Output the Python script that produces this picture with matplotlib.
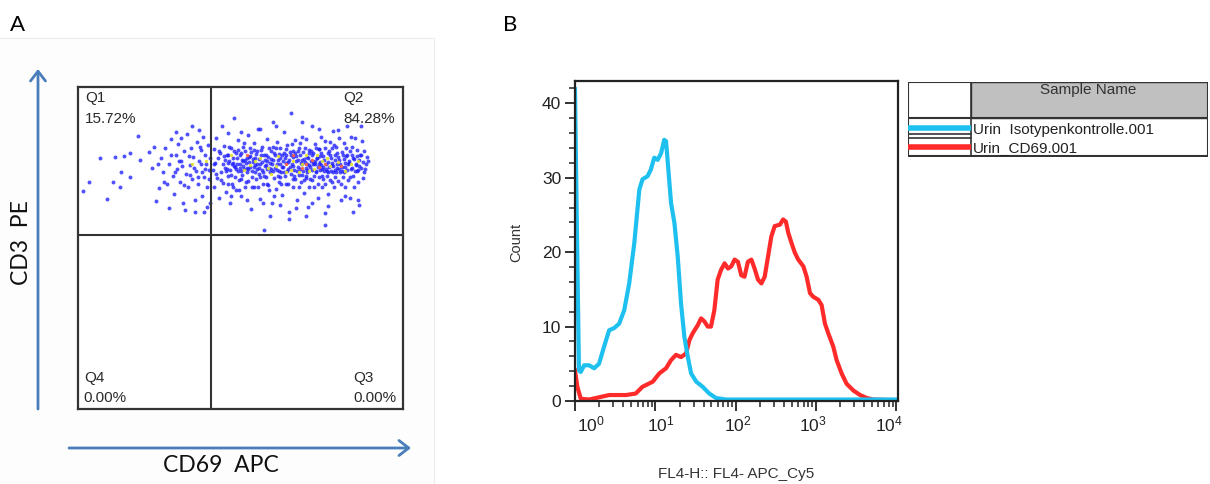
import matplotlib
matplotlib.use("Agg")
import matplotlib.pyplot as plt
import matplotlib.transforms as mtransforms
from matplotlib.patches import FancyArrowPatch, Rectangle
from matplotlib.ticker import FixedLocator, MultipleLocator, NullFormatter

plt.rcParams["font.family"] = ["Liberation Sans", "DejaVu Sans"]
plt.rcParams["mathtext.fontset"] = "custom"
plt.rcParams["mathtext.rm"] = "Liberation Sans"
plt.rcParams["mathtext.it"] = "Liberation Sans:italic"
plt.rcParams["mathtext.bf"] = "Liberation Sans:bold"
plt.rcParams["mathtext.default"] = "regular"

# ---- panel A: CD69 APC vs CD3 PE dot plot (channel units 0..1000) ----
gate_x = 410
gate_y = 540
quadrants = ["Q1", "Q2", "Q3", "Q4"]
quadrant_pct = ["15.72%", "84.28%", "0.00%", "0.00%"]

cloud = [
    (16, 677), (34, 704), (68, 779), (90, 652), (108, 706), (114, 783), (128, 690), (133, 735),
    (141, 785), (159, 795), (161, 722), (184, 849), (192, 773), (218, 799), (229, 747), (234, 813),
    (239, 646), (250, 687), (255, 780), (262, 735), (268, 812), (274, 700), (280, 760), (286, 838),
    (291, 724), (296, 668), (300, 790), (305, 745), (309, 822), (314, 705), (318, 770), (322, 640),
    (327, 800), (331, 730), (336, 855), (339, 690), (344, 758), (348, 812), (352, 715), (355, 782),
    (359, 650), (363, 740), (366, 828), (370, 700), (373, 770), (377, 805), (380, 660), (383, 735),
    (386, 845), (389, 720), (392, 790), (395, 760), (398, 690), (400, 820), (403, 742), (405, 640),
    (406, 778), (388, 612), (396, 627), (360, 612), (330, 618), (280, 625), (300, 860), (350, 880),
    (372, 868), (318, 842), (245, 760), (265, 705), (285, 790), (298, 735), (312, 770), (325, 695),
    (342, 785), (357, 748), (368, 720), (378, 760), (391, 745), (402, 715), (374, 815), (346, 728),
    (320, 755),
    (414, 742), (417, 806), (419, 688), (422, 765), (425, 842), (428, 716), (431, 778), (434, 655),
    (437, 795), (439, 735), (442, 880), (445, 760), (447, 702), (450, 818), (452, 748), (455, 675),
    (457, 790), (460, 725), (462, 858), (465, 770), (467, 640), (469, 742), (472, 810), (474, 698),
    (476, 780), (479, 755), (481, 905), (483, 722), (485, 795), (487, 680), (490, 760), (492, 835),
    (494, 712), (497, 748), (499, 788), (501, 660), (504, 772), (506, 728), (508, 815), (511, 745),
    (513, 690), (515, 802), (518, 765), (520, 735), (522, 850), (524, 708), (526, 782), (529, 752),
    (531, 620), (533, 798), (535, 740), (538, 768), (540, 690), (542, 825), (545, 758), (547, 715),
    (549, 792), (551, 745), (554, 870), (556, 730), (558, 775), (560, 652), (562, 805), (565, 742),
    (567, 768), (569, 700), (571, 557), (573, 788), (576, 755), (578, 722), (580, 840), (582, 770),
    (585, 695), (587, 748), (589, 812), (591, 735), (594, 775), (596, 640), (598, 762), (600, 890),
    (602, 718), (604, 795), (607, 750), (609, 682), (611, 828), (613, 742), (616, 772), (618, 705),
    (620, 760), (622, 810), (625, 735), (627, 665), (629, 788), (631, 752), (634, 860), (636, 725),
    (638, 778), (640, 700), (642, 820), (645, 745), (647, 768), (649, 612), (651, 798), (654, 730),
    (656, 918), (658, 760), (660, 688), (663, 782), (665, 742), (667, 835), (669, 715), (672, 770),
    (674, 650), (676, 800), (678, 752), (680, 728), (683, 790), (685, 705), (687, 765), (689, 845),
    (692, 738), (694, 775), (696, 672), (698, 812), (701, 750), (703, 725), (705, 782), (707, 628),
    (710, 758), (712, 805), (714, 715), (716, 770), (719, 880), (721, 742), (723, 795), (725, 690),
    (728, 760), (730, 822), (732, 735), (734, 778), (737, 655), (739, 752), (741, 808), (743, 720),
    (746, 768), (748, 845), (750, 745), (752, 690), (755, 785), (757, 738), (759, 572), (761, 812),
    (764, 760), (766, 725), (768, 795), (770, 668), (773, 752), (775, 830), (777, 740), (779, 778),
    (782, 705), (784, 862), (786, 755), (788, 690), (791, 788), (793, 735), (795, 815), (797, 760),
    (800, 708), (802, 842), (804, 772), (806, 735), (809, 648), (811, 798), (813, 752), (815, 720),
    (818, 825), (820, 765), (822, 690), (824, 785), (827, 742), (829, 880), (831, 710), (833, 770),
    (836, 800), (838, 655), (840, 745), (843, 815), (845, 725), (847, 780), (850, 690), (852, 842),
    (854, 758), (857, 740), (859, 805), (861, 705), (864, 772), (866, 635), (868, 790), (871, 750),
    (873, 832), (876, 718), (878, 768), (881, 800), (884, 745), (888, 783), (870, 878), (860, 650),
    (846, 612),
    (452, 772), (458, 745), (463, 790), (470, 728), (477, 765), (482, 752), (488, 778), (493, 738),
    (498, 762), (503, 795), (509, 755), (514, 772), (519, 748), (525, 768), (530, 785), (536, 722),
    (541, 752), (546, 778), (552, 762), (557, 748), (563, 790), (568, 735), (574, 772), (579, 758),
    (584, 782), (590, 765), (595, 745), (601, 772), (606, 788), (612, 760), (617, 738), (623, 778),
    (628, 752), (633, 795), (639, 765), (644, 740), (650, 772), (655, 790), (661, 755), (666, 725),
    (671, 785), (677, 772), (682, 745), (688, 760), (693, 798), (699, 768), (704, 742), (709, 778),
    (715, 752), (720, 790), (726, 765), (731, 740), (736, 780), (742, 762), (747, 795), (753, 752),
    (758, 772), (763, 745), (769, 768), (774, 788), (780, 758), (785, 735), (790, 772), (796, 748),
    (801, 782), (807, 760), (812, 738), (817, 775), (823, 752), (828, 790), (835, 765), (842, 748),
    (849, 775), (856, 762), (863, 742), (620, 722), (640, 808), (660, 800), (680, 812), (700, 718),
    (720, 712), (740, 808), (760, 700), (780, 812), (690, 728), (710, 795), (730, 770), (750, 725),
    (770, 735), (790, 742), (600, 815), (580, 700), (560, 720), (540, 805), (520, 780), (500, 715),
    (480, 800), (460, 765), (705, 762), (745, 742),
    (418, 760), (426, 730), (433, 800), (441, 712), (448, 785), (456, 738), (461, 700), (466, 815),
    (473, 760), (478, 690), (486, 745), (491, 805), (496, 680), (502, 740), (507, 770), (512, 825),
    (517, 705), (523, 745), (528, 812), (534, 690), (539, 775), (544, 735), (550, 800), (555, 690),
    (561, 760), (566, 815), (572, 725), (577, 790), (583, 745), (588, 680), (593, 800), (599, 738),
    (603, 660), (608, 810), (614, 725), (619, 792), (624, 700), (630, 770), (635, 735), (641, 790),
    (646, 700), (652, 752), (657, 822), (662, 715), (668, 795), (673, 740), (679, 690), (684, 825),
    (690, 772), (695, 710), (700, 840), (706, 735), (711, 690), (717, 800), (722, 762), (727, 725),
    (733, 812), (738, 700), (744, 785), (749, 758), (754, 715), (760, 832), (765, 738), (771, 800),
    (776, 712), (781, 765), (787, 820), (792, 720), (798, 795), (803, 745), (808, 700), (814, 790),
    (819, 735), (825, 812), (830, 760), (837, 720), (844, 790), (851, 740), (858, 785), (865, 755),
    (872, 790), (879, 735), (886, 760), (892, 770), (470, 660), (520, 650), (570, 640), (620, 635),
    (670, 625), (720, 640), (770, 630), (820, 660), (500, 860), (560, 870), (610, 880), (690, 890),
    (740, 870), (800, 865), (840, 845), (590, 600), (650, 590), (700, 600), (760, 610),
]
cloud_yellow = [
    (470, 790), (510, 742), (545, 770), (585, 750), (615, 785), (640, 735), (662, 770), (690, 760),
    (700, 790), (725, 745), (750, 770), (775, 755), (800, 768), (820, 740), (840, 760), (610, 755),
    (655, 742), (735, 790), (560, 780), (595, 730), (680, 735), (765, 780), (710, 740), (530, 758),
    (860, 770), (395, 770), (350, 760),
]
cloud_red = [
    (640, 760), (690, 748), (720, 772), (760, 762), (700, 760), (810, 755), (660, 790), (740, 752),
    (520, 790),
]

# ---- panel B: FL4 histogram overlay ----
blue_x = [1.0, 1.05, 1.09, 1.12, 1.18, 1.30, 1.50, 1.73, 1.99, 2.30, 2.66, 3.07, 3.55, 4.10,
          4.73, 5.47, 6.32, 6.93, 8.0, 8.8, 9.7, 10.7, 11.8, 12.9, 13.6, 14.3, 15.7, 17.3, 19.0,
          20.9, 23.0, 25.4, 27.9, 32.3, 38.9, 47.0, 57, 76, 150, 500, 2000, 10500]
blue_y = [41.9, 25, 13, 4.1, 3.9, 4.8, 4.8, 4.4, 5.0, 7.3, 9.5, 9.8, 10.4, 12.2,
          15.8, 21.2, 28.4, 29.8, 30.2, 31.1, 32.7, 32.4, 33.3, 35.1, 34.9, 32.0, 26.6, 23.9, 19.4,
          13.1, 8.6, 5.9, 3.7, 2.6, 1.9, 1.0, 0.4, 0.2, 0.2, 0.2, 0.2, 0.2]

red_x = [1.0, 1.07, 1.18, 1.5, 2.0, 2.66, 4.3, 5.7, 6.9, 9.3, 11.2, 13.6, 15.7, 18.1, 20.9, 24.2,
         26.6, 29.2, 33.8, 37.1, 40.8, 44.9, 49.3, 54.3, 59.7, 65.7, 72.8, 80.3, 88.3, 97.1, 106.8,
         117.5, 129, 142, 157, 172, 190, 209, 230, 253, 278, 306, 356, 390, 422, 452, 497, 547, 602,
         696, 765, 842, 926, 1069, 1175, 1293, 1422, 1643, 1807, 2087, 2410, 2925, 3548, 4300,
         5200, 10500]
red_y = [4.1, 1.9, 0.3, 0.2, 0.5, 0.8, 0.8, 1.0, 1.9, 2.6, 3.7, 4.4, 5.5, 6.2, 5.9, 6.4,
         8.2, 9.1, 10.2, 11.1, 10.7, 10.0, 10.0, 12.2, 16.3, 17.6, 18.5, 17.8, 18.1, 19.0, 18.7,
         16.9, 16.7, 18.7, 19.0, 17.8, 16.3, 15.8, 16.7, 19.4, 22.1, 23.5, 23.7, 24.4, 24.1, 22.6,
         21.2, 19.9, 19.0, 18.1, 16.7, 14.5, 14.0, 13.6, 12.9, 10.4, 9.1, 7.3, 5.5, 3.7, 2.3, 1.4,
         0.8, 0.4, 0.2, 0.1]

samples = ["Urin  Isotypenkontrolle.001", "Urin_CD69.001"]
sample_colors = ["#1ec0f0", "#ff2a2a"]
x_ticks = [1, 10, 100, 1000, 10000]
y_ticks = [0, 10, 20, 30, 40]

W, H = 1210, 484
fig = plt.figure(figsize=(W / 100, H / 100), dpi=100)


def px_box(left, top, right, bottom):
    return [left / W, (H - bottom) / H, (right - left) / W, (bottom - top) / H]


def px(x, y):
    return (x / W, (H - y) / H)


# faint frame of panel A
fig.add_artist(Rectangle(px(-2, 484), 436 / W, 446 / H, transform=fig.transFigure,
                         facecolor="#fdfdfd", edgecolor="#ececec", lw=0.8, zorder=0))

axA = fig.add_axes(px_box(78, 87, 403, 409))
axA.set_xlim(0, 1000)
axA.set_ylim(0, 1000)
axA.set_xticks([])
axA.set_yticks([])
for sp in axA.spines.values():
    sp.set_linewidth(1.6)
    sp.set_color("#333333")

axA.scatter([p[0] for p in cloud], [p[1] for p in cloud], s=8, c="#2020ff",
            alpha=0.78, linewidths=0)
axA.scatter([p[0] for p in cloud_yellow], [p[1] for p in cloud_yellow], s=6, c="#e2e22a",
            alpha=0.9, linewidths=0)
axA.scatter([p[0] for p in cloud_red], [p[1] for p in cloud_red], s=6, c="#ff6040",
            alpha=0.9, linewidths=0)
axA.axvline(gate_x, color="#333333", lw=1.5)
axA.axhline(gate_y, color="#333333", lw=1.5)

qfont = dict(fontsize=11, color="#2a2a2a", transform=axA.transAxes, va="center")
axA.text(0.022, 0.966, quadrants[0], **qfont)
axA.text(0.022, 0.901, quadrant_pct[0], **qfont)
axA.text(0.815, 0.966, quadrants[1], **qfont)
axA.text(0.815, 0.901, quadrant_pct[1], **qfont)
axA.text(0.846, 0.096, quadrants[2], **qfont)
axA.text(0.846, 0.034, quadrant_pct[2], **qfont)
axA.text(0.018, 0.096, quadrants[3], **qfont)
axA.text(0.018, 0.034, quadrant_pct[3], **qfont)

arrow_kw = dict(transform=fig.transFigure, arrowstyle="->,head_length=0.35,head_width=0.27",
                mutation_scale=20, color="#4a7ebb", lw=2, shrinkA=0, shrinkB=0)
fig.add_artist(FancyArrowPatch(px(38, 409), px(38, 69), **arrow_kw))
fig.add_artist(FancyArrowPatch(px(69, 448), px(411, 448), **arrow_kw))

calibri = ["Lato", "DejaVu Sans"]
fig.text(*px(21, 243), "CD3  PE", rotation=90, ha="center", va="center", fontsize=16.5,
         family=calibri, color="#111111")
fig.text(*px(221, 465), "CD69  APC", ha="center", va="center", fontsize=16.5,
         family=calibri, color="#111111")
fig.text(*px(10, 25), "A", ha="left", va="center", fontsize=16, family=calibri)
fig.text(*px(503, 25), "B", ha="left", va="center", fontsize=16, family=calibri)

# ---- panel B ----
axB = fig.add_axes(px_box(575, 81, 898, 401))
axB.set_xscale("log")
axB.set_xlim(1, 10500)
axB.set_ylim(0, 43)
axB.plot(red_x, red_y, color=sample_colors[1], lw=3, solid_joinstyle="round")
axB.plot(blue_x, blue_y, color=sample_colors[0], lw=3, solid_joinstyle="round")
axB.set_xticks(x_ticks)
axB.xaxis.set_minor_locator(FixedLocator([m * d for d in x_ticks[:-1] for m in range(2, 10)]))
axB.xaxis.set_minor_formatter(NullFormatter())
axB.set_yticks(y_ticks)
axB.yaxis.set_minor_locator(MultipleLocator(2))
axB.tick_params(which="major", direction="out", length=7, width=1.3, labelsize=12.5,
                colors="#222222", pad=3)
axB.tick_params(which="minor", direction="out", length=4, width=1.1, colors="#222222")
# the cytometer software spaces its decade labels slightly tighter than the ticks
label_shift_px = [16, 5, 2, -3, -7]
for lab, dx in zip(axB.get_xticklabels(), label_shift_px):
    lab.set_transform(lab.get_transform()
                      + mtransforms.ScaledTranslation(dx / 100, 0, fig.dpi_scale_trans))
for sp in axB.spines.values():
    sp.set_linewidth(1.6)
    sp.set_color("#222222")
axB.set_ylabel("Count", fontsize=10.5, color="#333333")
axB.yaxis.set_label_coords(-0.16, 0.497)
axB.set_xlabel("FL4-H:: FL4- APC_Cy5", fontsize=11, color="#333333")
axB.xaxis.set_label_coords(0.5, -0.205)

# ---- sample legend table ----
axL = fig.add_axes(px_box(908, 82, 1208, 157))
axL.set_xlim(0, 300)
axL.set_ylim(75, 0)
axL.axis("off")
axL.add_patch(Rectangle((63, 0), 237, 36, facecolor="#c0c0c0", edgecolor="#333333", lw=1))
axL.add_patch(Rectangle((0, 0), 300, 74, facecolor="none", edgecolor="#333333", lw=1.5))
axL.plot([63, 63], [0, 74], color="#333333", lw=1.2)
axL.plot([0, 300], [36, 36], color="#333333", lw=1.5)
axL.plot([0, 63], [52, 52], color="#333333", lw=1.2)
axL.plot([0, 63], [56, 56], color="#333333", lw=1.2)
axL.plot([0, 63], [46, 46], color=sample_colors[0], lw=4, solid_capstyle="butt")
axL.plot([0, 63], [65, 65], color=sample_colors[1], lw=4, solid_capstyle="butt")
axL.text(180, 8, "Sample Name", ha="center", va="center", fontsize=11, color="#333333")
axL.text(65, 48, samples[0], ha="left", va="center", fontsize=11, color="#222222")
axL.text(65, 66, samples[1], ha="left", va="center", fontsize=11, color="#222222")

fig.savefig("out.png", dpi=100)
